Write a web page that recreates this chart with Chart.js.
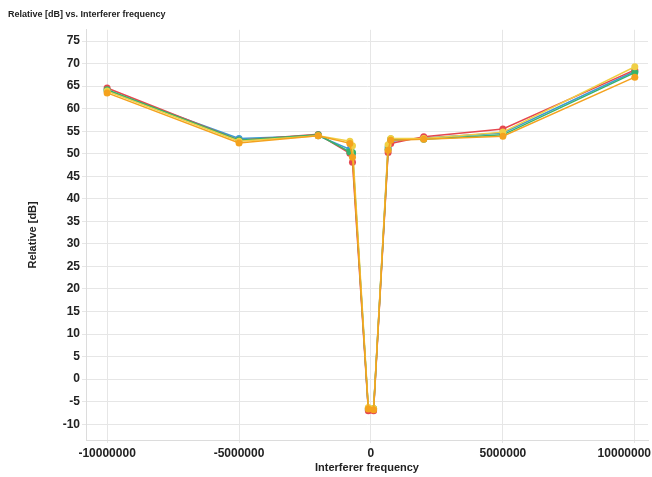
<!DOCTYPE html>
<html><head><meta charset="utf-8">
<script src="https://cdn.jsdelivr.net/npm/chart.js@4/dist/chart.umd.min.js"></script>
<style>html,body{margin:0;padding:0;background:#fff}#wrap{width:652px;height:477px}</style>
</head><body><div id="wrap"><canvas id="c" width="652" height="477"></canvas></div>
<script>
const frequencies = [-10000000, -5000000, -2000000, -800000, -700000, -100000, 100000, 650000, 750000, 2000000, 5000000, 10000000];
const seriesBlue   = [64.0, 53.4, 54.0, 51.0, 50.0, -6.8, -6.8, 51.5, 52.8, 53.5, 54.6, 68.3];
const seriesRed    = [64.6, 53.0, 54.3, 50.1, 48.1, -7.0, -7.0, 50.3, 52.3, 53.8, 55.5, 68.6];
const seriesGreen  = [64.2, 53.0, 54.2, 50.4, 50.3, -6.5, -6.5, 51.0, 53.3, 53.2, 54.2, 68.0];
const seriesYellow = [63.9, 52.8, 54.0, 52.8, 51.8, -6.3, -6.5, 52.0, 53.4, 53.4, 54.8, 69.3];
const seriesOrange = [63.5, 52.4, 54.0, 52.3, 49.2, -6.6, -6.8, 50.8, 53.0, 53.2, 53.9, 67.0];
const xTicks = [-10000000, -5000000, 0, 5000000, 10000000];
const yTicks = [-10, -5, 0, 5, 10, 15, 20, 25, 30, 35, 40, 45, 50, 55, 60, 65, 70, 75];

const mk = (vals, color) => ({
  data: frequencies.map((f, i) => ({x: f, y: vals[i]})),
  borderColor: color, backgroundColor: color,
  pointBackgroundColor: color, pointBorderColor: color,
  borderWidth: 1.5, pointRadius: 3.5, pointBorderWidth: 0, tension: 0
});
const font = 'Liberation Sans, Arial, sans-serif';
const tickFont = { family: font, size: 12, weight: 'bold' };

// keep x tick labels inside the canvas
const clampLabels = {
  id: 'clampLabels',
  beforeDraw(chart) {
    const sc = chart.scales.x;
    const items = sc.getLabelItems();
    const ctx = chart.ctx;
    ctx.save();
    ctx.font = 'bold 12px ' + font;
    items.forEach(it => {
      const w = ctx.measureText(String(it.label)).width;
      const x = it.options.translation[0];
      const maxX = chart.width - 1 - w / 2;
      const minX = 1 + w / 2;
      it.options.translation[0] = Math.min(maxX, Math.max(minX, x));
    });
    ctx.restore();
  }
};

new Chart(document.getElementById('c'), {
  type: 'line',
  data: { datasets: [
    mk(seriesOrange, '#f4a21e'),
    mk(seriesYellow, '#f0cf45'),
    mk(seriesGreen, '#36b36c'),
    mk(seriesRed, '#e5474f'),
    mk(seriesBlue, '#3d9bd3')
  ]},
  plugins: [clampLabels],
  options: {
    responsive: false, animation: false, devicePixelRatio: 1,
    layout: { padding: { left: 8, right: 2, top: 0, bottom: 0 } },
    plugins: {
      legend: { display: false }, tooltip: { enabled: false },
      title: { display: true, text: 'Relative [dB] vs. Interferer frequency', align: 'start',
        color: '#222', font: { family: font, size: 9, weight: 'bold' }, padding: { top: 9, bottom: 10 } }
    },
    scales: {
      x: { type: 'linear', min: -10800000, max: 10500000,
        afterBuildTicks: s => { s.ticks = xTicks.map(v => ({value: v})); },
        afterFit: s => { s.height = 37; s.paddingLeft = 0; s.paddingRight = 0; },
        grid: { color: '#e6e6e6', tickLength: 3 },
        border: { color: '#dcdcdc' },
        ticks: { color: '#222', padding: 3, font: tickFont, maxRotation: 0,
          callback: v => String(v) },
        title: { display: true, text: 'Interferer frequency', color: '#222', padding: { top: 0, bottom: 2 },
          font: { family: font, size: 11, weight: 'bold' } }
      },
      y: { type: 'linear', min: -13.5, max: 77.5,
        afterBuildTicks: s => { s.ticks = yTicks.map(v => ({value: v})); },
        afterFit: s => { s.width = 78; },
        grid: { color: '#e6e6e6', tickLength: 4 },
        border: { color: '#dcdcdc' },
        ticks: { color: '#222', padding: 2, font: tickFont,
          callback: v => String(v) },
        title: { display: true, text: 'Relative [dB]', color: '#222', padding: { top: 18, bottom: 0 },
          font: { family: font, size: 11, weight: 'bold' } }
      }
    }
  }
});
</script></body></html>
